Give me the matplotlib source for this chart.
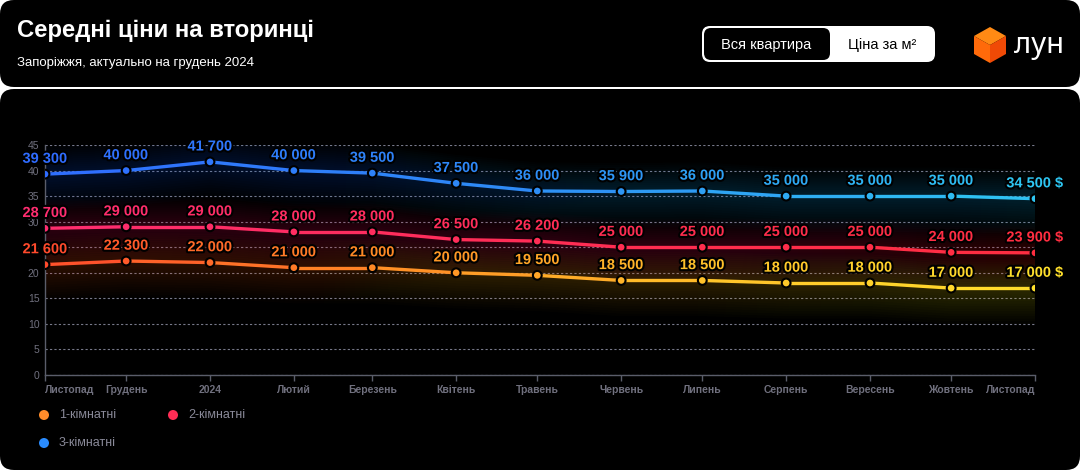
import numpy as np
import pandas as pd
import matplotlib
matplotlib.use("Agg")
import matplotlib.pyplot as plt
import matplotlib.dates as mdates
from matplotlib.collections import LineCollection
from matplotlib.patches import FancyBboxPatch, Polygon, Circle
import matplotlib.patheffects as pe
from matplotlib.colors import to_rgba

plt.rcParams['font.family'] = ['Liberation Sans', 'DejaVu Sans']

# ---------------- data ----------------
dates = pd.date_range('2023-11-01', periods=13, freq='MS')
month_labels = ["Листопад", "Грудень", "2024", "Лютий", "Березень", "Квітень", "Травень",
                "Червень", "Липень", "Серпень", "Вересень", "Жовтень", "Листопад"]
room1 = [21600, 22300, 22000, 21000, 21000, 20000, 19500, 18500, 18500, 18000, 18000, 17000, 17000]
room2 = [28700, 29000, 29000, 28000, 28000, 26500, 26200, 25000, 25000, 25000, 25000, 24000, 23900]
room3 = [39300, 40000, 41700, 40000, 39500, 37500, 36000, 35900, 36000, 35000, 35000, 35000, 34500]
series_names = ["1-кімнатні", "2-кімнатні", "3-кімнатні"]
y_ticks = [0, 5, 10, 15, 20, 25, 30, 35, 40, 45]

title = "Середні ціни на вторинці"
subtitle = "Запоріжжя, актуально на грудень 2024"

# gradient colour stops (left -> right)
grad_stops = {
    "1-кімнатні": ["#ff4a2c", "#ff8a25", "#ffc12a", "#ffe02c"],
    "2-кімнатні": ["#ff2d70", "#ff2d55", "#ff2d40"],
    "3-кімнатні": ["#2f6cff", "#2e8df5", "#2ec6f2"],
}
legend_colors = {"1-кімнатні": "#ff8c2a", "2-кімнатні": "#ff2d55", "3-кімнатні": "#2a8cff"}


def grad_color(stops, t):
    cols = np.array([to_rgba(c) for c in stops])
    pos = np.linspace(0, 1, len(cols))
    return np.array([np.interp(t, pos, cols[:, k]) for k in range(4)])


def fmt(v):
    return f"{v:,}".replace(",", " ")


W, H = 1080, 470
fig = plt.figure(figsize=(W / 100, H / 100), dpi=100, facecolor="white")

# ---------------- background panels ----------------
bg = fig.add_axes([0, 0, 1, 1])
bg.set_xlim(0, W)
bg.set_ylim(H, 0)
bg.axis("off")
bg.add_patch(FancyBboxPatch((0, 0), W, 87, boxstyle="round,pad=0,rounding_size=14",
                            facecolor="black", edgecolor="none"))
bg.add_patch(FancyBboxPatch((0, 89), W, H - 89, boxstyle="round,pad=0,rounding_size=14",
                            facecolor="black", edgecolor="none"))

bg.text(17, 31, title, color="white", fontsize=17.2, fontweight="bold", va="center", ha="left")
bg.text(17, 63, subtitle, color="white", fontsize=9.5, va="center", ha="left")

# toggle
bg.add_patch(FancyBboxPatch((702, 26), 233, 36, boxstyle="round,pad=0,rounding_size=8",
                            facecolor="white", edgecolor="none"))
bg.add_patch(FancyBboxPatch((704, 28), 126, 32, boxstyle="round,pad=0,rounding_size=7",
                            facecolor="black", edgecolor="none"))
bg.text(766, 44.5, "Вся квартира", color="white", fontsize=10.5, ha="center", va="center")
bg.text(882, 44.5, "Ціна за м²", color="black", fontsize=10.5, ha="center", va="center")

# logo cube
top = (990, 27); ur = (1006, 36); lr = (1006, 54); bot = (990, 63); ll = (974, 54); ul = (974, 36)
c = (990, 45)
bg.add_patch(Polygon([top, ur, c, ul], closed=True, facecolor="#ff8a14", edgecolor="none"))
bg.add_patch(Polygon([ul, c, bot, ll], closed=True, facecolor="#ff6a0a", edgecolor="none"))
bg.add_patch(Polygon([c, ur, lr, bot], closed=True, facecolor="#f04a06", edgecolor="none"))
bg.text(1014, 45, "лун", color="white", fontsize=21, ha="left", va="center",
        fontweight="medium", family=["Noto Sans", "DejaVu Sans"])

# legend
leg_pos = {"1-кімнатні": (44, 415), "2-кімнатні": (173, 415), "3-кімнатні": (44, 443)}
for name in series_names:
    x, y = leg_pos[name]
    bg.add_patch(Circle((x, y), 5, facecolor=legend_colors[name], edgecolor="none"))
    bg.text(x + 15, y, name, color="#8a8a99", fontsize=9, ha="left", va="center")

# ---------------- main chart ----------------
ax = fig.add_axes([45 / W, (H - 375) / H, (1035 - 45) / W, (375 - 145) / H])
ax.set_facecolor("none")
xn = mdates.date2num(dates)
x0, x1 = xn[0], xn[-1]

for sp in ["top", "right"]:
    ax.spines[sp].set_visible(False)
for sp in ["left", "bottom"]:
    ax.spines[sp].set_color("#5a5d6a")
    ax.spines[sp].set_linewidth(1)

ax.set_yticks(y_ticks)
ax.set_yticklabels([str(t) for t in y_ticks])
ax.yaxis.grid(True, color="#77798a", linestyle=(0, (2, 2)), linewidth=0.8)
ax.set_axisbelow(True)
ax.tick_params(axis="y", length=0, pad=4, labelsize=7.5, labelcolor="#70707e")
ax.set_xticks(xn)
ax.set_xticklabels(month_labels, fontweight="bold")
ax.tick_params(axis="x", length=4, width=1, color="#5a5d6a", pad=3, labelsize=7.5,
               labelcolor="#70707e")
tl = ax.get_xticklabels()
tl[0].set_ha("left")
tl[-1].set_ha("right")

series = {"1-кімнатні": room1, "2-кімнатні": room2, "3-кімнатні": room3}
tvals = (xn - x0) / (x1 - x0)

for name in series_names:
    vals = np.array(series[name]) / 1000.0
    stops = grad_stops[name]
    # glow (many soft layers)
    gimg = np.array([[grad_color(stops, t) for t in np.linspace(0, 1, 256)]])
    for d in np.linspace(0.6, 7.0, 14):
        poly = ax.fill_between(xn, vals - d, vals + d * 0.8, facecolor="none", edgecolor="none")
        path = poly.get_paths()[0]
        poly.remove()
        img = gimg.copy()
        img[..., 3] = 0.016
        im = ax.imshow(img, extent=[x0, x1, 0, 45], aspect="auto", zorder=1,
                       interpolation="bilinear")
        im.set_clip_path(path, transform=ax.transData)
    # line (per segment colour)
    segs = [[(xn[i], vals[i]), (xn[i + 1], vals[i + 1])] for i in range(len(xn) - 1)]
    segcols = [grad_color(stops, (tvals[i] + tvals[i + 1]) / 2) for i in range(len(xn) - 1)]
    lc = LineCollection(segs, colors=segcols, linewidths=2.4, zorder=3, capstyle="round")
    ax.add_collection(lc)
    ptcols = [grad_color(stops, t) for t in tvals]
    ax.scatter(xn, vals, s=40, c=ptcols, edgecolors="black", linewidths=1.5, zorder=4)
    for i, (xx, v) in enumerate(zip(xn, series[name])):
        txt = fmt(v) + (" $" if i == len(xn) - 1 else "")
        ax.annotate(txt, (xx, v / 1000.0), xytext=(0, 6), textcoords="offset points",
                    ha="center", va="bottom", color=ptcols[i], fontsize=10.5, fontweight="bold",
                    zorder=5,
                    path_effects=[pe.withStroke(linewidth=3, foreground="black")])

ax.set_xlim(x0, x1)
ax.set_ylim(0, 45)

fig.savefig("out.png", dpi=100, facecolor="white")
